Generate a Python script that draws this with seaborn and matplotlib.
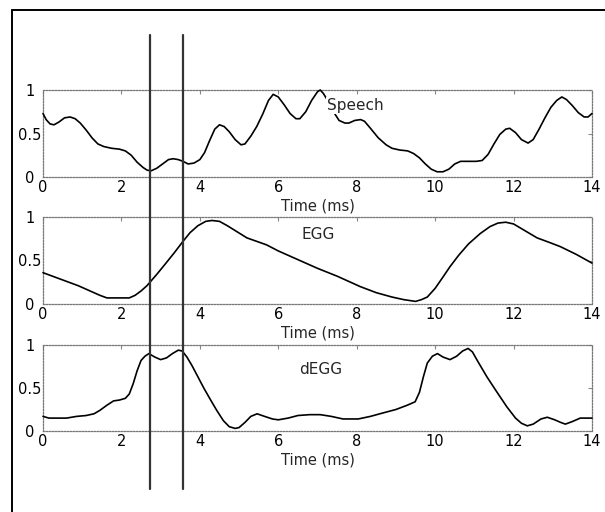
import matplotlib
matplotlib.use("Agg")
import matplotlib.pyplot as plt
import matplotlib.transforms as mtransforms
from matplotlib.lines import Line2D
import seaborn as sns
import pandas as pd

# ---- data ----
speech_t = [0.0, 0.08, 0.18, 0.28, 0.4, 0.55, 0.69, 0.82, 0.95, 1.1, 1.25, 1.4, 1.55, 1.75, 1.95,
            2.1, 2.25, 2.4, 2.55, 2.65, 2.75, 2.9, 3.05, 3.2, 3.32, 3.45, 3.57, 3.7, 3.85, 4.0,
            4.12, 4.25, 4.38, 4.5, 4.62, 4.75, 4.9, 5.05, 5.15, 5.3, 5.45, 5.6, 5.75, 5.87, 6.0,
            6.15, 6.3, 6.45, 6.55, 6.7, 6.85, 7.0, 7.07, 7.15, 7.3, 7.45, 7.55, 7.7, 7.8, 7.95,
            8.1, 8.2, 8.35, 8.55, 8.75, 8.9, 9.1, 9.3, 9.45, 9.6, 9.75, 9.9, 10.05, 10.2, 10.35,
            10.5, 10.65, 10.85, 11.05, 11.2, 11.35, 11.5, 11.65, 11.8, 11.9, 12.05, 12.2, 12.37,
            12.5, 12.65, 12.8, 12.95, 13.1, 13.23, 13.35, 13.5, 13.65, 13.8, 13.9, 14.0]
speech_v = [0.73, 0.66, 0.61, 0.60, 0.63, 0.68, 0.69, 0.67, 0.62, 0.54, 0.45, 0.38, 0.35, 0.33, 0.32,
            0.30, 0.25, 0.17, 0.11, 0.08, 0.07, 0.10, 0.15, 0.20, 0.21, 0.20, 0.18, 0.15, 0.16, 0.20,
            0.28, 0.42, 0.55, 0.60, 0.58, 0.52, 0.43, 0.37, 0.38, 0.47, 0.58, 0.72, 0.88, 0.95, 0.92,
            0.83, 0.73, 0.67, 0.67, 0.75, 0.88, 0.98, 1.00, 0.96, 0.85, 0.72, 0.65, 0.62, 0.62, 0.65,
            0.66, 0.64, 0.56, 0.45, 0.37, 0.33, 0.31, 0.30, 0.27, 0.22, 0.15, 0.09, 0.06, 0.06, 0.09,
            0.15, 0.18, 0.18, 0.18, 0.19, 0.26, 0.38, 0.49, 0.55, 0.56, 0.51, 0.43, 0.39,
            0.43, 0.55, 0.68, 0.80, 0.88, 0.92, 0.89, 0.82, 0.74, 0.69, 0.69, 0.73]

egg_t = [0.0, 0.3, 0.6, 0.9, 1.2, 1.45, 1.63, 1.9, 2.2, 2.35, 2.5, 2.65, 2.9, 3.1, 3.35, 3.57,
         3.75, 3.95, 4.15, 4.31, 4.5, 4.7, 4.95, 5.2, 5.45, 5.7, 6.0, 6.4, 6.7, 7.0, 7.5, 8.09,
         8.5, 8.9, 9.2, 9.5, 9.65, 9.8, 10.0, 10.2, 10.38, 10.6, 10.85, 11.15, 11.4, 11.6, 11.8,
         12.0, 12.3, 12.6, 12.9, 13.19, 13.6, 14.0]
egg_v = [0.36, 0.31, 0.26, 0.21, 0.15, 0.10, 0.07, 0.07, 0.07, 0.10, 0.15, 0.21, 0.34, 0.45, 0.59, 0.72,
         0.82, 0.90, 0.95, 0.96, 0.95, 0.90, 0.83, 0.76, 0.72, 0.68, 0.61, 0.53, 0.47, 0.41, 0.32, 0.20,
         0.13, 0.08, 0.05, 0.03, 0.05, 0.08, 0.18, 0.31, 0.43, 0.56, 0.69, 0.81, 0.89, 0.93, 0.94,
         0.92, 0.84, 0.76, 0.71, 0.66, 0.57, 0.47]

degg_t = [0.0, 0.15, 0.3, 0.6, 0.86, 1.1, 1.3, 1.45, 1.63, 1.8, 1.95, 2.1, 2.2, 2.3, 2.4, 2.5, 2.6,
          2.7, 2.85, 3.0, 3.15, 3.3, 3.45, 3.55, 3.67, 3.8, 3.95, 4.1, 4.25, 4.43, 4.6, 4.75, 4.9,
          5.0, 5.15, 5.3, 5.46, 5.65, 5.85, 6.0, 6.25, 6.5, 6.8, 7.07, 7.35, 7.65, 8.04, 8.35, 8.67,
          9.0, 9.29, 9.49, 9.6, 9.7, 9.8, 9.93, 10.06, 10.2, 10.38, 10.55, 10.7, 10.84, 10.95, 11.1,
          11.32, 11.55, 11.83, 12.05, 12.2, 12.35, 12.5, 12.7, 12.86, 13.05, 13.2, 13.32, 13.5, 13.7,
          14.0]
degg_v = [0.17, 0.15, 0.15, 0.15, 0.17, 0.18, 0.20, 0.24, 0.30, 0.35, 0.36, 0.38, 0.43, 0.55, 0.70, 0.82, 0.87,
          0.90, 0.86, 0.83, 0.85, 0.90, 0.94, 0.93, 0.86, 0.76, 0.63, 0.50, 0.38, 0.24, 0.12, 0.05, 0.03,
          0.04, 0.10, 0.17, 0.20, 0.17, 0.14, 0.13, 0.15, 0.18, 0.19, 0.19, 0.17, 0.14, 0.14, 0.17, 0.21,
          0.25, 0.30, 0.34, 0.45, 0.63, 0.79, 0.87, 0.90, 0.86, 0.83, 0.87, 0.93, 0.96, 0.92, 0.80,
          0.63, 0.47, 0.28, 0.15, 0.09, 0.06, 0.08, 0.14, 0.16, 0.13, 0.10, 0.08, 0.11, 0.15,
          0.15]

panel_names = ["Speech", "EGG", "dEGG"]
label_pos_t = [7.96, 7.02, 7.07]
label_pos_v = [0.82, 0.80, 0.72]
marker_times = [2.73, 3.57]
x_ticks = [0, 2, 4, 6, 8, 10, 12, 14]
y_ticks = [0, 0.5, 1]
y_ticklabels = ["0", "0.5", "1"]
x_label = "Time (ms)"

# ---- figure ----
sns.set_style("white")
plt.rcParams["font.family"] = ["DejaVu Sans"]

W, H = 605, 512
fig = plt.figure(figsize=(W / 100, H / 100), dpi=100)

ax_left, ax_right = 43, 592
panel_px = [(90, 177), (217, 304), (345, 431)]
series = [(speech_t, speech_v), (egg_t, egg_v), (degg_t, degg_v)]

axes = []
for (top, bot), (t, v), name, lt, lv in zip(panel_px, series, panel_names, label_pos_t, label_pos_v):
    ax = fig.add_axes([ax_left / W, 1 - bot / H, (ax_right - ax_left) / W, (bot - top) / H])
    df = pd.DataFrame({"t": t, "v": v})
    sns.lineplot(data=df, x="t", y="v", ax=ax, color="black", linewidth=1.2,
                 clip_on=False, zorder=3, solid_joinstyle="round")
    ax.set_xlim(0, 14)
    ax.set_ylim(0, 1)
    ax.set_xticks(x_ticks)
    ax.set_xticklabels([str(x) for x in x_ticks])
    ax.set_yticks(y_ticks)
    ax.set_yticklabels(y_ticklabels, ha="center")
    ax.tick_params(direction="in", length=3, width=0.8, color="#888888",
                   top=True, right=True, labelsize=10.5, labelcolor="black")
    ax.tick_params(axis="x", pad=2)
    ax.tick_params(axis="y", pad=9.5)
    ax.set_xlabel(x_label, fontsize=10.5, labelpad=3)
    ax.set_ylabel("")
    for sp in ax.spines.values():
        sp.set_visible(True)
        sp.set_linestyle((0, (1.2, 1.2)))
        sp.set_color("#777777")
        sp.set_linewidth(0.9)
    ax.text(lt, lv, name, ha="center", va="center", fontsize=11, zorder=5,
            bbox=dict(facecolor="white", edgecolor="none", pad=0.5))
    ax.patch.set_alpha(0)
    axes.append(ax)

# vertical marker lines spanning all panels
trans = mtransforms.blended_transform_factory(axes[0].transData, fig.transFigure)
for mt in marker_times:
    fig.add_artist(Line2D([mt, mt], [1 - 35 / H, 1 - 489 / H], transform=trans,
                          color="#333333", linewidth=1.6, zorder=10))

# outer frame (top and left edges)
fig.add_artist(Line2D([12 / W, 1.0], [1 - 10 / H, 1 - 10 / H], transform=fig.transFigure,
                      color="black", linewidth=1.4))
fig.add_artist(Line2D([12 / W, 12 / W], [0.0, 1 - 10 / H], transform=fig.transFigure,
                      color="black", linewidth=1.4))

fig.savefig("out.png", dpi=100)
